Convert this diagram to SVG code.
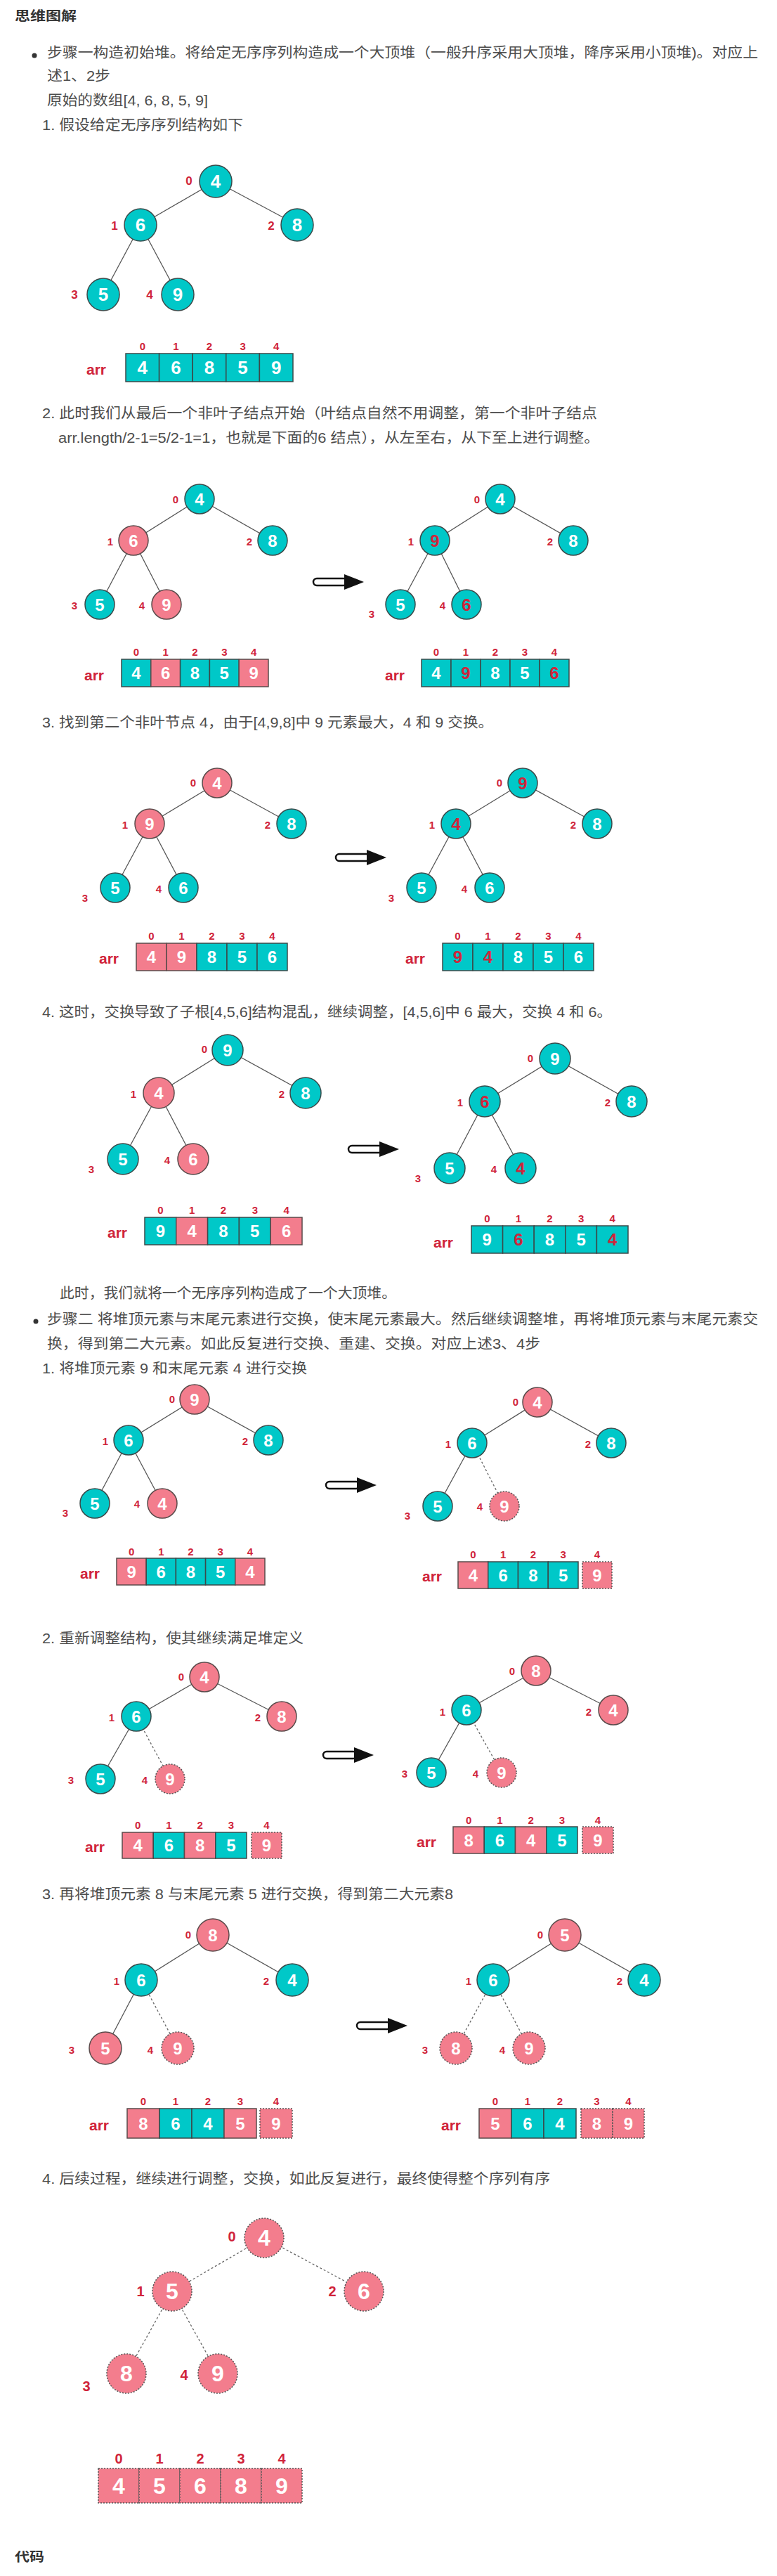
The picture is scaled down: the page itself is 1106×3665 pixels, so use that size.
<svg xmlns="http://www.w3.org/2000/svg" xmlns:xlink="http://www.w3.org/1999/xlink" width="1106" height="3665" viewBox="0 0 1106 3665">
<defs>
<style>
.bg{fill:#fff}
.tx{font-family:"Liberation Sans","Noto Sans CJK SC",sans-serif;font-size:20px;fill:#4d4d4d}
.hd{font-family:"Liberation Sans","Noto Sans CJK SC",sans-serif;font-size:18px;font-weight:bold;fill:#333}
.t{fill:#00C8C8;stroke:#3b4a4a;stroke-width:1.5}
.p{fill:#F37D8D;stroke:#5a4b4b;stroke-width:1.5}
.d{fill:#F37D8D;stroke:#555;stroke-width:1.5;stroke-dasharray:2 2}
.e{stroke:#555;stroke-width:1.3;fill:none}
.ed{stroke:#666;stroke-width:1.3;fill:none;stroke-dasharray:3 3}
.nv{font-family:"Liberation Sans",Arial,sans-serif;font-weight:bold;font-size:24px;fill:#fff;text-anchor:middle;dominant-baseline:central}
.nr{fill:#D0243A}
.lb{font-family:"Liberation Sans",Arial,sans-serif;font-weight:bold;font-size:15px;fill:#D0243A;text-anchor:middle;dominant-baseline:central}
.ar{font-family:"Liberation Sans",Arial,sans-serif;font-weight:bold;font-size:21px;fill:#D0243A;text-anchor:middle;dominant-baseline:central}
.big{font-size:26px}
.huge{font-size:32px}
.lbb{font-size:17px}
.lbh{font-size:20px}
</style>
<g id="arrow">
<rect x="0" y="-5" width="48" height="10" rx="5" fill="#fff" stroke="#111" stroke-width="2.5"/>
<polygon points="44,-11 72,0 44,11" fill="#111"/>
</g>
</defs>
<rect class="bg" x="0" y="0" width="1106" height="3665"/>

<g id="texts">
<text class="hd" x="21" y="29" textLength="88" lengthAdjust="spacingAndGlyphs">思维图解</text>
<circle cx="49" cy="79" r="3.5" fill="#333"/>
<text class="tx" x="67" y="82" textLength="1012" lengthAdjust="spacingAndGlyphs">步骤一构造初始堆。将给定无序序列构造成一个大顶堆（一般升序采用大顶堆，降序采用小顶堆)。对应上</text>
<text class="tx" x="67" y="115" textLength="90" lengthAdjust="spacingAndGlyphs">述1、2步</text>
<text class="tx" x="67" y="150" textLength="229" lengthAdjust="spacingAndGlyphs">原始的数组[4, 6, 8, 5, 9]</text>
<text class="tx" x="60" y="185" textLength="286" lengthAdjust="spacingAndGlyphs">1. 假设给定无序序列结构如下</text>
<text class="tx" x="60" y="595" textLength="790" lengthAdjust="spacingAndGlyphs">2. 此时我们从最后一个非叶子结点开始（叶结点自然不用调整，第一个非叶子结点</text>
<text class="tx" x="83" y="630" textLength="770" lengthAdjust="spacingAndGlyphs">arr.length/2-1=5/2-1=1，也就是下面的6 结点），从左至右，从下至上进行调整。</text>
<text class="tx" x="60" y="1035" textLength="642" lengthAdjust="spacingAndGlyphs">3. 找到第二个非叶节点 4，由于[4,9,8]中 9 元素最大，4 和 9 交换。</text>
<text class="tx" x="60" y="1447" textLength="811" lengthAdjust="spacingAndGlyphs">4. 这时，交换导致了子根[4,5,6]结构混乱，继续调整，[4,5,6]中 6 最大，交换 4 和 6。</text>
<text class="tx" x="85" y="1847" textLength="479" lengthAdjust="spacingAndGlyphs">此时，我们就将一个无序序列构造成了一个大顶堆。</text>
<circle cx="51" cy="1880" r="3.5" fill="#333"/>
<text class="tx" x="67" y="1884" textLength="1012" lengthAdjust="spacingAndGlyphs">步骤二 将堆顶元素与末尾元素进行交换，使末尾元素最大。然后继续调整堆，再将堆顶元素与末尾元素交</text>
<text class="tx" x="67" y="1919" textLength="702" lengthAdjust="spacingAndGlyphs">换，得到第二大元素。如此反复进行交换、重建、交换。对应上述3、4步</text>
<text class="tx" x="60" y="1954" textLength="377" lengthAdjust="spacingAndGlyphs">1. 将堆顶元素 9 和末尾元素 4 进行交换</text>
<text class="tx" x="60" y="2338" textLength="372" lengthAdjust="spacingAndGlyphs">2. 重新调整结构，使其继续满足堆定义</text>
<text class="tx" x="60" y="2702" textLength="585" lengthAdjust="spacingAndGlyphs">3. 再将堆顶元素 8 与末尾元素 5 进行交换，得到第二大元素8</text>
<text class="tx" x="60" y="3107" textLength="723" lengthAdjust="spacingAndGlyphs">4. 后续过程，继续进行调整，交换，如此反复进行，最终使得整个序列有序</text>
<text class="hd" x="21" y="3644" textLength="42" lengthAdjust="spacingAndGlyphs">代码</text>
</g>

<g id="connectors">
<line class="e" x1="307" y1="258" x2="200" y2="320"/><line class="e" x1="307" y1="258" x2="423" y2="320"/><line class="e" x1="200" y1="320" x2="147" y2="419"/><line class="e" x1="200" y1="320" x2="253" y2="419"/>
<line class="e" x1="284" y1="710" x2="190" y2="769"/><line class="e" x1="284" y1="710" x2="388" y2="769"/><line class="e" x1="190" y1="769" x2="142" y2="860"/><line class="e" x1="190" y1="769" x2="237" y2="860"/>
<line class="e" x1="712" y1="710" x2="619" y2="769"/><line class="e" x1="712" y1="710" x2="816" y2="769"/><line class="e" x1="619" y1="769" x2="570" y2="860"/><line class="e" x1="619" y1="769" x2="664" y2="860"/>
<line class="e" x1="309" y1="1114" x2="213" y2="1172"/><line class="e" x1="309" y1="1114" x2="415" y2="1172"/><line class="e" x1="213" y1="1172" x2="164" y2="1263"/><line class="e" x1="213" y1="1172" x2="261" y2="1263"/>
<line class="e" x1="744" y1="1114" x2="649" y2="1172"/><line class="e" x1="744" y1="1114" x2="850" y2="1172"/><line class="e" x1="649" y1="1172" x2="600" y2="1263"/><line class="e" x1="649" y1="1172" x2="697" y2="1263"/>
<line class="e" x1="324" y1="1494" x2="226" y2="1555"/><line class="e" x1="324" y1="1494" x2="435" y2="1555"/><line class="e" x1="226" y1="1555" x2="175" y2="1649"/><line class="e" x1="226" y1="1555" x2="275" y2="1649"/>
<line class="e" x1="790" y1="1506" x2="690" y2="1567"/><line class="e" x1="790" y1="1506" x2="899" y2="1567"/><line class="e" x1="690" y1="1567" x2="640" y2="1662"/><line class="e" x1="690" y1="1567" x2="741" y2="1662"/>
<line class="e" x1="277" y1="1991" x2="183" y2="2049"/><line class="e" x1="277" y1="1991" x2="382" y2="2049"/><line class="e" x1="183" y1="2049" x2="135" y2="2139"/><line class="e" x1="183" y1="2049" x2="231" y2="2139"/>
<line class="e" x1="765" y1="1995" x2="672" y2="2053"/><line class="e" x1="765" y1="1995" x2="870" y2="2053"/><line class="e" x1="672" y1="2053" x2="623" y2="2143"/><line class="ed" x1="672" y1="2053" x2="718" y2="2143"/>
<line class="e" x1="291" y1="2386" x2="194" y2="2442"/><line class="e" x1="291" y1="2386" x2="401" y2="2442"/><line class="e" x1="194" y1="2442" x2="143" y2="2531"/><line class="ed" x1="194" y1="2442" x2="242" y2="2531"/>
<line class="e" x1="763" y1="2377" x2="664" y2="2433"/><line class="e" x1="763" y1="2377" x2="873" y2="2433"/><line class="e" x1="664" y1="2433" x2="614" y2="2522"/><line class="ed" x1="664" y1="2433" x2="714" y2="2522"/>
<line class="e" x1="303" y1="2753" x2="201" y2="2817"/><line class="e" x1="303" y1="2753" x2="416" y2="2817"/><line class="e" x1="201" y1="2817" x2="150" y2="2914"/><line class="ed" x1="201" y1="2817" x2="253" y2="2914"/>
<line class="e" x1="804" y1="2753" x2="702" y2="2817"/><line class="e" x1="804" y1="2753" x2="917" y2="2817"/><line class="ed" x1="702" y1="2817" x2="649" y2="2914"/><line class="ed" x1="702" y1="2817" x2="753" y2="2914"/>
<line class="ed" x1="376" y1="3184" x2="245" y2="3260"/><line class="ed" x1="376" y1="3184" x2="518" y2="3260"/><line class="ed" x1="245" y1="3260" x2="180" y2="3377"/><line class="ed" x1="245" y1="3260" x2="310" y2="3377"/>
</g>

<g id="arrows">
<use xlink:href="#arrow" href="#arrow" x="446" y="828"/>
<use xlink:href="#arrow" href="#arrow" x="478" y="1220"/>
<use xlink:href="#arrow" href="#arrow" x="496" y="1635"/>
<use xlink:href="#arrow" href="#arrow" x="464" y="2113"/>
<use xlink:href="#arrow" href="#arrow" x="460" y="2497"/>
<use xlink:href="#arrow" href="#arrow" x="508" y="2882"/>
</g>

<!-- Tree 1 -->
<g id="t1">
<g id="t1-n0"><circle class="t" cx="307" cy="258" r="23"/><text class="nv big" x="307" y="258">4</text><text class="lb lbb" x="269" y="257">0</text></g>
<g id="t1-n1"><circle class="t" cx="200" cy="320" r="23"/><text class="nv big" x="200" y="320">6</text><text class="lb lbb" x="163" y="321">1</text></g>
<g id="t1-n2"><circle class="t" cx="423" cy="320" r="23"/><text class="nv big" x="423" y="320">8</text><text class="lb lbb" x="386" y="321">2</text></g>
<g id="t1-n3"><circle class="t" cx="147" cy="419" r="23"/><text class="nv big" x="147" y="419">5</text><text class="lb lbb" x="106" y="419">3</text></g>
<g id="t1-n4"><circle class="t" cx="253" cy="419" r="23"/><text class="nv big" x="253" y="419">9</text><text class="lb lbb" x="213" y="419">4</text></g>
<g id="t1-arr">
<text class="ar" x="137" y="525">arr</text>
<rect class="t" x="179" y="503" width="47.6" height="40"/><rect class="t" x="226.6" y="503" width="47.6" height="40"/><rect class="t" x="274.2" y="503" width="47.6" height="40"/><rect class="t" x="321.8" y="503" width="47.6" height="40"/><rect class="t" x="369.4" y="503" width="47.6" height="40"/>
<text class="nv big" x="202.8" y="523">4</text><text class="nv big" x="250.4" y="523">6</text><text class="nv big" x="298" y="523">8</text><text class="nv big" x="345.6" y="523">5</text><text class="nv big" x="393.2" y="523">9</text>
<text class="lb" x="202.8" y="492">0</text><text class="lb" x="250.4" y="492">1</text><text class="lb" x="298" y="492">2</text><text class="lb" x="345.6" y="492">3</text><text class="lb" x="393.2" y="492">4</text>
</g>
</g>

<!-- Tree 2 left -->
<g id="t2L">
<g id="t2L-n0"><circle class="t" cx="284" cy="710" r="21"/><text class="nv" x="284" y="710">4</text><text class="lb" x="250" y="710">0</text></g>
<g id="t2L-n1"><circle class="p" cx="190" cy="769" r="21"/><text class="nv" x="190" y="769">6</text><text class="lb" x="157" y="770">1</text></g>
<g id="t2L-n2"><circle class="t" cx="388" cy="769" r="21"/><text class="nv" x="388" y="769">8</text><text class="lb" x="355" y="770">2</text></g>
<g id="t2L-n3"><circle class="t" cx="142" cy="860" r="21"/><text class="nv" x="142" y="860">5</text><text class="lb" x="106" y="861">3</text></g>
<g id="t2L-n4"><circle class="p" cx="237" cy="860" r="21"/><text class="nv" x="237" y="860">9</text><text class="lb" x="202" y="861">4</text></g>
<g id="t2L-arr">
<text class="ar" x="134" y="960">arr</text>
<rect class="t" x="173" y="938" width="41.8" height="39"/><rect class="p" x="214.8" y="938" width="41.8" height="39"/><rect class="t" x="256.6" y="938" width="41.8" height="39"/><rect class="t" x="298.4" y="938" width="41.8" height="39"/><rect class="p" x="340.2" y="938" width="41.8" height="39"/>
<text class="nv" x="193.9" y="957.5">4</text><text class="nv" x="235.7" y="957.5">6</text><text class="nv" x="277.5" y="957.5">8</text><text class="nv" x="319.3" y="957.5">5</text><text class="nv" x="361.1" y="957.5">9</text>
<text class="lb" x="193.9" y="927">0</text><text class="lb" x="235.7" y="927">1</text><text class="lb" x="277.5" y="927">2</text><text class="lb" x="319.3" y="927">3</text><text class="lb" x="361.1" y="927">4</text>
</g>
</g>

<!-- Tree 2 right -->
<g id="t2R">
<g id="t2R-n0"><circle class="t" cx="712" cy="710" r="21"/><text class="nv" x="712" y="710">4</text><text class="lb" x="679" y="710">0</text></g>
<g id="t2R-n1"><circle class="t" cx="619" cy="769" r="21"/><text class="nv nr" x="619" y="769">9</text><text class="lb" x="585" y="770">1</text></g>
<g id="t2R-n2"><circle class="t" cx="816" cy="769" r="21"/><text class="nv" x="816" y="769">8</text><text class="lb" x="783" y="770">2</text></g>
<g id="t2R-n3"><circle class="t" cx="570" cy="860" r="21"/><text class="nv" x="570" y="860">5</text><text class="lb" x="529" y="873">3</text></g>
<g id="t2R-n4"><circle class="t" cx="664" cy="860" r="21"/><text class="nv nr" x="664" y="860">6</text><text class="lb" x="630" y="861">4</text></g>
<g id="t2R-arr">
<text class="ar" x="562" y="960">arr</text>
<rect class="t" x="600" y="938" width="42" height="39"/><rect class="t" x="642" y="938" width="42" height="39"/><rect class="t" x="684" y="938" width="42" height="39"/><rect class="t" x="726" y="938" width="42" height="39"/><rect class="t" x="768" y="938" width="42" height="39"/>
<text class="nv" x="621" y="957.5">4</text><text class="nv nr" x="663" y="957.5">9</text><text class="nv" x="705" y="957.5">8</text><text class="nv" x="747" y="957.5">5</text><text class="nv nr" x="789" y="957.5">6</text>
<text class="lb" x="621" y="927">0</text><text class="lb" x="663" y="927">1</text><text class="lb" x="705" y="927">2</text><text class="lb" x="747" y="927">3</text><text class="lb" x="789" y="927">4</text>
</g>
</g>

<!-- Tree 3 left -->
<g id="t3L">
<g id="t3L-n0"><circle class="p" cx="309" cy="1114" r="21"/><text class="nv" x="309" y="1114">4</text><text class="lb" x="275" y="1113">0</text></g>
<g id="t3L-n1"><circle class="p" cx="213" cy="1172" r="21"/><text class="nv" x="213" y="1172">9</text><text class="lb" x="178" y="1173">1</text></g>
<g id="t3L-n2"><circle class="t" cx="415" cy="1172" r="21"/><text class="nv" x="415" y="1172">8</text><text class="lb" x="381" y="1173">2</text></g>
<g id="t3L-n3"><circle class="t" cx="164" cy="1263" r="21"/><text class="nv" x="164" y="1263">5</text><text class="lb" x="121" y="1277">3</text></g>
<g id="t3L-n4"><circle class="t" cx="261" cy="1263" r="21"/><text class="nv" x="261" y="1263">6</text><text class="lb" x="226" y="1264">4</text></g>
<g id="t3L-arr">
<text class="ar" x="155" y="1363">arr</text>
<rect class="p" x="194" y="1342" width="43" height="39"/><rect class="p" x="237" y="1342" width="43" height="39"/><rect class="t" x="280" y="1342" width="43" height="39"/><rect class="t" x="323" y="1342" width="43" height="39"/><rect class="t" x="366" y="1342" width="43" height="39"/>
<text class="nv" x="215.5" y="1361.5">4</text><text class="nv" x="258.5" y="1361.5">9</text><text class="nv" x="301.5" y="1361.5">8</text><text class="nv" x="344.5" y="1361.5">5</text><text class="nv" x="387.5" y="1361.5">6</text>
<text class="lb" x="215.5" y="1331">0</text><text class="lb" x="258.5" y="1331">1</text><text class="lb" x="301.5" y="1331">2</text><text class="lb" x="344.5" y="1331">3</text><text class="lb" x="387.5" y="1331">4</text>
</g>
</g>

<!-- Tree 3 right -->
<g id="t3R">
<g id="t3R-n0"><circle class="t" cx="744" cy="1114" r="21"/><text class="nv nr" x="744" y="1114">9</text><text class="lb" x="711" y="1113">0</text></g>
<g id="t3R-n1"><circle class="t" cx="649" cy="1172" r="21"/><text class="nv nr" x="649" y="1172">4</text><text class="lb" x="615" y="1173">1</text></g>
<g id="t3R-n2"><circle class="t" cx="850" cy="1172" r="21"/><text class="nv" x="850" y="1172">8</text><text class="lb" x="816" y="1173">2</text></g>
<g id="t3R-n3"><circle class="t" cx="600" cy="1263" r="21"/><text class="nv" x="600" y="1263">5</text><text class="lb" x="557" y="1277">3</text></g>
<g id="t3R-n4"><circle class="t" cx="697" cy="1263" r="21"/><text class="nv" x="697" y="1263">6</text><text class="lb" x="661" y="1264">4</text></g>
<g id="t3R-arr">
<text class="ar" x="591" y="1363">arr</text>
<rect class="t" x="630" y="1342" width="43" height="39"/><rect class="t" x="673" y="1342" width="43" height="39"/><rect class="t" x="716" y="1342" width="43" height="39"/><rect class="t" x="759" y="1342" width="43" height="39"/><rect class="t" x="802" y="1342" width="43" height="39"/>
<text class="nv nr" x="651.5" y="1361.5">9</text><text class="nv nr" x="694.5" y="1361.5">4</text><text class="nv" x="737.5" y="1361.5">8</text><text class="nv" x="780.5" y="1361.5">5</text><text class="nv" x="823.5" y="1361.5">6</text>
<text class="lb" x="651.5" y="1331">0</text><text class="lb" x="694.5" y="1331">1</text><text class="lb" x="737.5" y="1331">2</text><text class="lb" x="780.5" y="1331">3</text><text class="lb" x="823.5" y="1331">4</text>
</g>
</g>

<!-- Tree 4 left -->
<g id="t4L">
<g id="t4L-n0"><circle class="t" cx="324" cy="1494" r="22"/><text class="nv" x="324" y="1494">9</text><text class="lb" x="291" y="1492">0</text></g>
<g id="t4L-n1"><circle class="p" cx="226" cy="1555" r="22"/><text class="nv" x="226" y="1555">4</text><text class="lb" x="190" y="1556">1</text></g>
<g id="t4L-n2"><circle class="t" cx="435" cy="1555" r="22"/><text class="nv" x="435" y="1555">8</text><text class="lb" x="401" y="1556">2</text></g>
<g id="t4L-n3"><circle class="t" cx="175" cy="1649" r="22"/><text class="nv" x="175" y="1649">5</text><text class="lb" x="130" y="1663">3</text></g>
<g id="t4L-n4"><circle class="p" cx="275" cy="1649" r="22"/><text class="nv" x="275" y="1649">6</text><text class="lb" x="238" y="1650">4</text></g>
<g id="t4L-arr">
<text class="ar" x="167" y="1753">arr</text>
<rect class="t" x="206" y="1732" width="44.8" height="39"/><rect class="p" x="250.8" y="1732" width="44.8" height="39"/><rect class="t" x="295.6" y="1732" width="44.8" height="39"/><rect class="t" x="340.4" y="1732" width="44.8" height="39"/><rect class="p" x="385.2" y="1732" width="44.8" height="39"/>
<text class="nv" x="228.4" y="1751.5">9</text><text class="nv" x="273.2" y="1751.5">4</text><text class="nv" x="318" y="1751.5">8</text><text class="nv" x="362.8" y="1751.5">5</text><text class="nv" x="407.6" y="1751.5">6</text>
<text class="lb" x="228.4" y="1721">0</text><text class="lb" x="273.2" y="1721">1</text><text class="lb" x="318" y="1721">2</text><text class="lb" x="362.8" y="1721">3</text><text class="lb" x="407.6" y="1721">4</text>
</g>
</g>

<!-- Tree 4 right -->
<g id="t4R">
<g id="t4R-n0"><circle class="t" cx="790" cy="1506" r="22"/><text class="nv" x="790" y="1506">9</text><text class="lb" x="755" y="1505">0</text></g>
<g id="t4R-n1"><circle class="t" cx="690" cy="1567" r="22"/><text class="nv nr" x="690" y="1567">6</text><text class="lb" x="655" y="1568">1</text></g>
<g id="t4R-n2"><circle class="t" cx="899" cy="1567" r="22"/><text class="nv" x="899" y="1567">8</text><text class="lb" x="865" y="1568">2</text></g>
<g id="t4R-n3"><circle class="t" cx="640" cy="1662" r="22"/><text class="nv" x="640" y="1662">5</text><text class="lb" x="595" y="1676">3</text></g>
<g id="t4R-n4"><circle class="t" cx="741" cy="1662" r="22"/><text class="nv nr" x="741" y="1662">4</text><text class="lb" x="703" y="1663">4</text></g>
<g id="t4R-arr">
<text class="ar" x="631" y="1767">arr</text>
<rect class="t" x="671" y="1744" width="44.6" height="39"/><rect class="t" x="715.6" y="1744" width="44.6" height="39"/><rect class="t" x="760.2" y="1744" width="44.6" height="39"/><rect class="t" x="804.8" y="1744" width="44.6" height="39"/><rect class="t" x="849.4" y="1744" width="44.6" height="39"/>
<text class="nv" x="693.3" y="1763.5">9</text><text class="nv nr" x="737.9" y="1763.5">6</text><text class="nv" x="782.5" y="1763.5">8</text><text class="nv" x="827.1" y="1763.5">5</text><text class="nv nr" x="871.7" y="1763.5">4</text>
<text class="lb" x="693.3" y="1733">0</text><text class="lb" x="737.9" y="1733">1</text><text class="lb" x="782.5" y="1733">2</text><text class="lb" x="827.1" y="1733">3</text><text class="lb" x="871.7" y="1733">4</text>
</g>
</g>

<!-- Tree 5 left -->
<g id="t5L">
<g id="t5L-n0"><circle class="p" cx="277" cy="1991" r="21"/><text class="nv" x="277" y="1991">9</text><text class="lb" x="245" y="1990">0</text></g>
<g id="t5L-n1"><circle class="t" cx="183" cy="2049" r="21"/><text class="nv" x="183" y="2049">6</text><text class="lb" x="150" y="2050">1</text></g>
<g id="t5L-n2"><circle class="t" cx="382" cy="2049" r="21"/><text class="nv" x="382" y="2049">8</text><text class="lb" x="349" y="2050">2</text></g>
<g id="t5L-n3"><circle class="t" cx="135" cy="2139" r="21"/><text class="nv" x="135" y="2139">5</text><text class="lb" x="93" y="2152">3</text></g>
<g id="t5L-n4"><circle class="p" cx="231" cy="2139" r="21"/><text class="nv" x="231" y="2139">4</text><text class="lb" x="195" y="2139">4</text></g>
<g id="t5L-arr">
<text class="ar" x="128" y="2238">arr</text>
<rect class="p" x="166" y="2217" width="42.2" height="38"/><rect class="t" x="208.2" y="2217" width="42.2" height="38"/><rect class="t" x="250.4" y="2217" width="42.2" height="38"/><rect class="t" x="292.6" y="2217" width="42.2" height="38"/><rect class="p" x="334.8" y="2217" width="42.2" height="38"/>
<text class="nv" x="187.1" y="2236">9</text><text class="nv" x="229.3" y="2236">6</text><text class="nv" x="271.5" y="2236">8</text><text class="nv" x="313.7" y="2236">5</text><text class="nv" x="355.9" y="2236">4</text>
<text class="lb" x="187.1" y="2207">0</text><text class="lb" x="229.3" y="2207">1</text><text class="lb" x="271.5" y="2207">2</text><text class="lb" x="313.7" y="2207">3</text><text class="lb" x="355.9" y="2207">4</text>
</g>
</g>

<!-- Tree 5 right -->
<g id="t5R">
<g id="t5R-n0"><circle class="p" cx="765" cy="1995" r="21"/><text class="nv" x="765" y="1995">4</text><text class="lb" x="734" y="1994">0</text></g>
<g id="t5R-n1"><circle class="t" cx="672" cy="2053" r="21"/><text class="nv" x="672" y="2053">6</text><text class="lb" x="638" y="2054">1</text></g>
<g id="t5R-n2"><circle class="t" cx="870" cy="2053" r="21"/><text class="nv" x="870" y="2053">8</text><text class="lb" x="837" y="2054">2</text></g>
<g id="t5R-n3"><circle class="t" cx="623" cy="2143" r="21"/><text class="nv" x="623" y="2143">5</text><text class="lb" x="580" y="2156">3</text></g>
<g id="t5R-n4"><circle class="d" cx="718" cy="2143" r="21"/><text class="nv" x="718" y="2143">9</text><text class="lb" x="683" y="2143">4</text></g>
<g id="t5R-arr">
<text class="ar" x="615" y="2242">arr</text>
<rect class="p" x="652" y="2222" width="42.75" height="38"/><rect class="t" x="694.75" y="2222" width="42.75" height="38"/><rect class="t" x="737.5" y="2222" width="42.75" height="38"/><rect class="t" x="780.25" y="2222" width="42.75" height="38"/><rect class="d" x="829" y="2222" width="42" height="38"/>
<text class="nv" x="673.4" y="2241">4</text><text class="nv" x="716.1" y="2241">6</text><text class="nv" x="758.9" y="2241">8</text><text class="nv" x="801.6" y="2241">5</text><text class="nv" x="850" y="2241">9</text>
<text class="lb" x="673.4" y="2211">0</text><text class="lb" x="716.1" y="2211">1</text><text class="lb" x="758.9" y="2211">2</text><text class="lb" x="801.6" y="2211">3</text><text class="lb" x="850" y="2211">4</text>
</g>
</g>

<!-- Tree 6 left -->
<g id="t6L">
<g id="t6L-n0"><circle class="p" cx="291" cy="2386" r="21"/><text class="nv" x="291" y="2386">4</text><text class="lb" x="258" y="2385">0</text></g>
<g id="t6L-n1"><circle class="t" cx="194" cy="2442" r="21"/><text class="nv" x="194" y="2442">6</text><text class="lb" x="159" y="2443">1</text></g>
<g id="t6L-n2"><circle class="p" cx="401" cy="2442" r="21"/><text class="nv" x="401" y="2442">8</text><text class="lb" x="367" y="2443">2</text></g>
<g id="t6L-n3"><circle class="t" cx="143" cy="2531" r="21"/><text class="nv" x="143" y="2531">5</text><text class="lb" x="101" y="2532">3</text></g>
<g id="t6L-n4"><circle class="d" cx="242" cy="2531" r="21"/><text class="nv" x="242" y="2531">9</text><text class="lb" x="206" y="2532">4</text></g>
<g id="t6L-arr">
<text class="ar" x="135" y="2627">arr</text>
<rect class="p" x="174" y="2607" width="44.25" height="37"/><rect class="t" x="218.25" y="2607" width="44.25" height="37"/><rect class="p" x="262.5" y="2607" width="44.25" height="37"/><rect class="t" x="306.75" y="2607" width="44.25" height="37"/><rect class="d" x="358" y="2607" width="43" height="37"/>
<text class="nv" x="196.1" y="2625.5">4</text><text class="nv" x="240.4" y="2625.5">6</text><text class="nv" x="284.6" y="2625.5">8</text><text class="nv" x="328.9" y="2625.5">5</text><text class="nv" x="379.5" y="2625.5">9</text>
<text class="lb" x="196.1" y="2596">0</text><text class="lb" x="240.4" y="2596">1</text><text class="lb" x="284.6" y="2596">2</text><text class="lb" x="328.9" y="2596">3</text><text class="lb" x="379.5" y="2596">4</text>
</g>
</g>

<!-- Tree 6 right -->
<g id="t6R">
<g id="t6R-n0"><circle class="p" cx="763" cy="2377" r="21"/><text class="nv" x="763" y="2377">8</text><text class="lb" x="729" y="2377">0</text></g>
<g id="t6R-n1"><circle class="t" cx="664" cy="2433" r="21"/><text class="nv" x="664" y="2433">6</text><text class="lb" x="630" y="2435">1</text></g>
<g id="t6R-n2"><circle class="p" cx="873" cy="2433" r="21"/><text class="nv" x="873" y="2433">4</text><text class="lb" x="838" y="2435">2</text></g>
<g id="t6R-n3"><circle class="t" cx="614" cy="2522" r="21"/><text class="nv" x="614" y="2522">5</text><text class="lb" x="576" y="2523">3</text></g>
<g id="t6R-n4"><circle class="d" cx="714" cy="2522" r="21"/><text class="nv" x="714" y="2522">9</text><text class="lb" x="677" y="2523">4</text></g>
<g id="t6R-arr">
<text class="ar" x="607" y="2620">arr</text>
<rect class="p" x="645" y="2599" width="44.25" height="38"/><rect class="t" x="689.25" y="2599" width="44.25" height="38"/><rect class="p" x="733.5" y="2599" width="44.25" height="38"/><rect class="t" x="777.75" y="2599" width="44.25" height="38"/><rect class="d" x="829" y="2599" width="44" height="38"/>
<text class="nv" x="667.1" y="2618">8</text><text class="nv" x="711.4" y="2618">6</text><text class="nv" x="755.6" y="2618">4</text><text class="nv" x="799.9" y="2618">5</text><text class="nv" x="851" y="2618">9</text>
<text class="lb" x="667.1" y="2589">0</text><text class="lb" x="711.4" y="2589">1</text><text class="lb" x="755.6" y="2589">2</text><text class="lb" x="799.9" y="2589">3</text><text class="lb" x="851" y="2589">4</text>
</g>
</g>

<!-- Tree 7 left -->
<g id="t7L">
<g id="t7L-n0"><circle class="p" cx="303" cy="2753" r="23"/><text class="nv" x="303" y="2753">8</text><text class="lb" x="268" y="2752">0</text></g>
<g id="t7L-n1"><circle class="t" cx="201" cy="2817" r="23"/><text class="nv" x="201" y="2817">6</text><text class="lb" x="166" y="2818">1</text></g>
<g id="t7L-n2"><circle class="t" cx="416" cy="2817" r="23"/><text class="nv" x="416" y="2817">4</text><text class="lb" x="379" y="2818">2</text></g>
<g id="t7L-n3"><circle class="p" cx="150" cy="2914" r="23"/><text class="nv" x="150" y="2914">5</text><text class="lb" x="102" y="2916">3</text></g>
<g id="t7L-n4"><circle class="d" cx="253" cy="2914" r="23"/><text class="nv" x="253" y="2914">9</text><text class="lb" x="214" y="2916">4</text></g>
<g id="t7L-arr">
<text class="ar" x="141" y="3023">arr</text>
<rect class="p" x="181" y="3000" width="46" height="42"/><rect class="t" x="227" y="3000" width="46" height="42"/><rect class="t" x="273" y="3000" width="46" height="42"/><rect class="p" x="319" y="3000" width="46" height="42"/><rect class="d" x="370" y="3000" width="46" height="42"/>
<text class="nv" x="204" y="3021">8</text><text class="nv" x="250" y="3021">6</text><text class="nv" x="296" y="3021">4</text><text class="nv" x="342" y="3021">5</text><text class="nv" x="393" y="3021">9</text>
<text class="lb" x="204" y="2989">0</text><text class="lb" x="250" y="2989">1</text><text class="lb" x="296" y="2989">2</text><text class="lb" x="342" y="2989">3</text><text class="lb" x="393" y="2989">4</text>
</g>
</g>

<!-- Tree 7 right -->
<g id="t7R">
<g id="t7R-n0"><circle class="p" cx="804" cy="2753" r="23"/><text class="nv" x="804" y="2753">5</text><text class="lb" x="769" y="2752">0</text></g>
<g id="t7R-n1"><circle class="t" cx="702" cy="2817" r="23"/><text class="nv" x="702" y="2817">6</text><text class="lb" x="667" y="2818">1</text></g>
<g id="t7R-n2"><circle class="t" cx="917" cy="2817" r="23"/><text class="nv" x="917" y="2817">4</text><text class="lb" x="882" y="2818">2</text></g>
<g id="t7R-n3"><circle class="d" cx="649" cy="2914" r="23"/><text class="nv" x="649" y="2914">8</text><text class="lb" x="605" y="2916">3</text></g>
<g id="t7R-n4"><circle class="d" cx="753" cy="2914" r="23"/><text class="nv" x="753" y="2914">9</text><text class="lb" x="715" y="2916">4</text></g>
<g id="t7R-arr">
<text class="ar" x="642" y="3023">arr</text>
<rect class="p" x="682" y="3000" width="46" height="42"/><rect class="t" x="728" y="3000" width="46" height="42"/><rect class="t" x="774" y="3000" width="46" height="42"/><rect class="d" x="827" y="3000" width="45" height="42"/><rect class="d" x="872" y="3000" width="45" height="42"/>
<text class="nv" x="705" y="3021">5</text><text class="nv" x="751" y="3021">6</text><text class="nv" x="797" y="3021">4</text><text class="nv" x="849.5" y="3021">8</text><text class="nv" x="894.5" y="3021">9</text>
<text class="lb" x="705" y="2989">0</text><text class="lb" x="751" y="2989">1</text><text class="lb" x="797" y="2989">2</text><text class="lb" x="849.5" y="2989">3</text><text class="lb" x="894.5" y="2989">4</text>
</g>
</g>

<!-- Tree 8 final -->
<g id="t8">
<g id="t8-n0"><circle class="d" cx="376" cy="3184" r="28"/><text class="nv huge" x="376" y="3184">4</text><text class="lb lbh" x="330" y="3182">0</text></g>
<g id="t8-n1"><circle class="d" cx="245" cy="3260" r="28"/><text class="nv huge" x="245" y="3260">5</text><text class="lb lbh" x="200" y="3260">1</text></g>
<g id="t8-n2"><circle class="d" cx="518" cy="3260" r="28"/><text class="nv huge" x="518" y="3260">6</text><text class="lb lbh" x="473" y="3260">2</text></g>
<g id="t8-n3"><circle class="d" cx="180" cy="3377" r="28"/><text class="nv huge" x="180" y="3377">8</text><text class="lb lbh" x="123" y="3395">3</text></g>
<g id="t8-n4"><circle class="d" cx="310" cy="3377" r="28"/><text class="nv huge" x="310" y="3377">9</text><text class="lb lbh" x="262" y="3379">4</text></g>
<g id="t8-arr">
<rect class="d" x="140" y="3512" width="58" height="49"/><rect class="d" x="198" y="3512" width="58" height="49"/><rect class="d" x="256" y="3512" width="58" height="49"/><rect class="d" x="314" y="3512" width="58" height="49"/><rect class="d" x="372" y="3512" width="58" height="49"/>
<text class="nv huge" x="169" y="3536.5">4</text><text class="nv huge" x="227" y="3536.5">5</text><text class="nv huge" x="285" y="3536.5">6</text><text class="nv huge" x="343" y="3536.5">8</text><text class="nv huge" x="401" y="3536.5">9</text>
<text class="lb lbh" x="169" y="3498">0</text><text class="lb lbh" x="227" y="3498">1</text><text class="lb lbh" x="285" y="3498">2</text><text class="lb lbh" x="343" y="3498">3</text><text class="lb lbh" x="401" y="3498">4</text>
</g>
</g>
</svg>
